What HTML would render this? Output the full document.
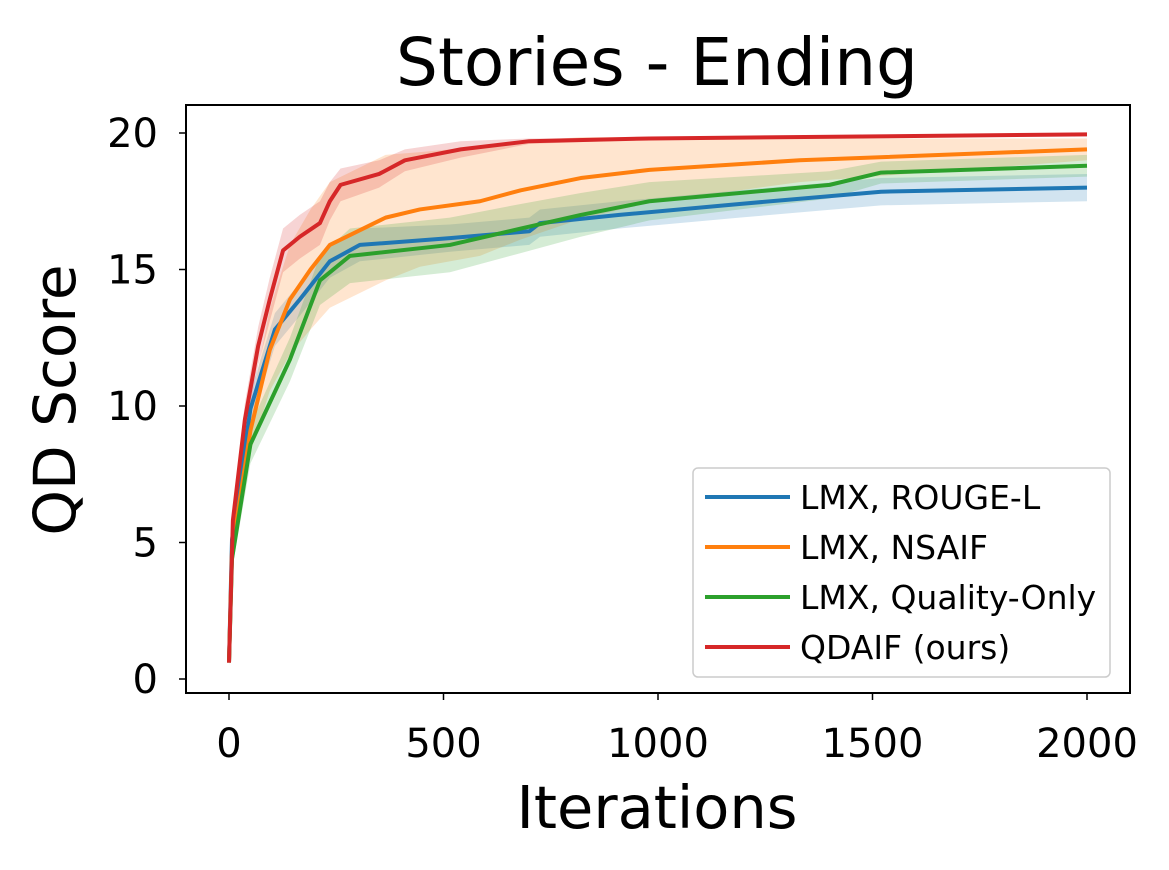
<!DOCTYPE html>
<html><head><meta charset="utf-8"><style>
body{margin:0;background:#fff;}
svg{display:block;font-family:"DejaVu Sans","Liberation Sans",sans-serif;}
</style></head><body>
<svg id="chart" width="1169" height="870">
<g id="bands"></g>
<g id="lines"></g>
<rect x="186" y="105" width="944" height="588" fill="none" stroke="#000" stroke-width="2"/>
<g id="axes"></g>
<text x="657" y="85" font-size="66" text-anchor="middle">Stories - Ending</text>
<text x="657" y="828" font-size="59" text-anchor="middle">Iterations</text>
<text transform="translate(75,400) rotate(-90)" font-size="58" text-anchor="middle">QD Score</text>
<g>
<rect x="693" y="468" width="417" height="209" rx="5" fill="#fff" fill-opacity="0.8" stroke="#ccc" stroke-width="1.5"/>
<g id="legend"></g>
</g>
</svg>
<script>
const seriesNames=["LMX, ROUGE-L","LMX, NSAIF","LMX, Quality-Only","QDAIF (ours)"];
const colors=["#1f77b4","#ff7f0e","#2ca02c","#d62728"];
const xTicks=[0,500,1000,1500,2000];
const yTicks=[0,5,10,15,20];
const blueX=[0,7,50,107,165,235,305,515,700,725,910,1190,1520,2000];
const blueY=[0.6,5.1,9.9,12.8,13.9,15.3,15.9,16.15,16.4,16.7,17.0,17.4,17.85,18.0];
const blueSd=[0.1,0.4,0.6,0.6,0.6,0.6,0.6,0.5,0.5,0.5,0.5,0.5,0.5,0.5];
const orangeX=[0,7,50,95,142,190,235,365,445,585,680,820,980,1330,2000];
const orangeY=[0.6,4.7,9.1,12.05,13.9,15.0,15.9,16.9,17.2,17.5,17.9,18.35,18.65,19.0,19.4];
const orangeSd=[0.1,0.5,0.8,1.5,2.0,2.2,2.3,2.3,2.1,2.0,1.8,1.5,1.2,0.8,0.4];
const greenX=[0,7,50,142,212,282,515,680,820,980,1400,1520,2000];
const greenY=[0.6,4.4,8.6,11.7,14.6,15.5,15.9,16.5,17.0,17.5,18.1,18.55,18.8];
const greenSd=[0.1,0.4,0.7,0.8,0.9,1.0,1.0,0.9,0.8,0.7,0.5,0.4,0.4];
const redX=[0,9,37,68,95,126,165,212,235,260,350,410,540,700,980,2000];
const redY=[0.6,5.8,9.5,12.2,13.9,15.7,16.2,16.7,17.5,18.1,18.5,19.0,19.4,19.7,19.8,19.95];
const redSd=[0.1,0.4,0.6,0.7,0.8,0.8,0.8,0.8,0.7,0.6,0.5,0.4,0.3,0.1,0.05,0.05];
const xs=[blueX,orangeX,greenX,redX], ys=[blueY,orangeY,greenY,redY], sds=[blueSd,orangeSd,greenSd,redSd];
const NS="http://www.w3.org/2000/svg";
const sx=v=>229+v*(1087-229)/2000;
const sy=v=>679-v*(679-133)/20;
function mk(t,a,p){const e=document.createElementNS(NS,t);for(const k in a)e.setAttribute(k,a[k]);p.appendChild(e);return e;}
const bands=document.getElementById('bands'),lines=document.getElementById('lines'),axes=document.getElementById('axes'),leg=document.getElementById('legend');
for(let s=0;s<4;s++){
  const X=xs[s],Y=ys[s],S=sds[s];
  let up=X.map((x,i)=>sx(x)+','+sy(Y[i]+S[i]));
  let dn=X.map((x,i)=>sx(x)+','+sy(Y[i]-S[i])).reverse();
  const b=mk('polygon',{points:up.concat(dn).join(' '),fill:colors[s],'fill-opacity':0.2},bands);
  
  
}
for(let s=0;s<4;s++){
  const X=xs[s],Y=ys[s];
  const l=mk('polyline',{points:X.map((x,i)=>sx(x)+','+sy(Y[i])).join(' '),fill:'none',stroke:colors[s],'stroke-width':4,'stroke-linejoin':'round'},lines);
  
  
}
xTicks.forEach(t=>{
  const ln=mk('line',{x1:sx(t),x2:sx(t),y1:693,y2:700,stroke:'#000','stroke-width':1.5},axes);
  
  
  const tx=mk('text',{x:sx(t),y:757,'font-size':40,'text-anchor':'middle'},axes);tx.textContent=t;
  
  
});
yTicks.forEach(t=>{
  const ln=mk('line',{x1:179,x2:186,y1:sy(t),y2:sy(t),stroke:'#000','stroke-width':1.5},axes);
  
  
  const tx=mk('text',{x:158,y:sy(t)+14,'font-size':40,'text-anchor':'end'},axes);tx.textContent=t;
  
  
});
seriesNames.forEach((n,i)=>{
  const y=497+i*50;
  const ln=mk('line',{x1:705,x2:790,y1:y,y2:y,stroke:colors[i],'stroke-width':4},leg);
  
  
  const tx=mk('text',{x:800,y:y+12,'font-size':33},leg);tx.textContent=n;
  
  
});
</script>
</body></html>
